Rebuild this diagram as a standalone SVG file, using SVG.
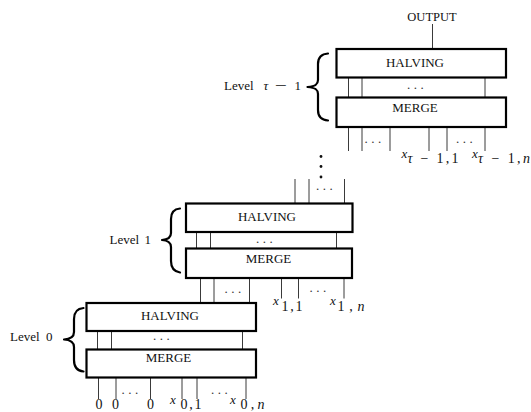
<svg xmlns="http://www.w3.org/2000/svg" width="531" height="412" viewBox="0 0 531 412">
  <defs>
    <style>
      .box { fill: #ffffff; stroke: #000000; stroke-width: 2.2; }
      .wire { stroke: #3a3a3a; stroke-width: 1; fill: none; }
      .brace { fill: none; stroke: #000000; stroke-width: 2.2; stroke-linecap: round; stroke-linejoin: round; }
      .t { font-family: "Liberation Serif", "Times New Roman", serif; font-size: 13px; fill: #111111; }
      .s { font-size: 14px; }
      .c { text-anchor: middle; }
      .i { font-style: italic; }
      .dots { font-family: "Liberation Serif", serif; font-size: 13px; fill: #333333; letter-spacing: 3.5px; }
    </style>
  </defs>
  <rect width="531" height="412" fill="#ffffff"/>

  <!-- connectors -->
  <g id="connectors">
    <!-- output -->
    <line class="wire" x1="432.5" y1="24" x2="432.5" y2="49"/>
    <!-- level tau-1 -->
    <line class="wire" x1="348.5" y1="77.5" x2="348.5" y2="97.5"/>
    <line class="wire" x1="362" y1="77.5" x2="362" y2="97.5"/>
    <line class="wire" x1="485" y1="77.5" x2="485" y2="97.5"/>
    <line class="wire" x1="415" y1="117" x2="415" y2="127"/>
    <line class="wire" x1="348.5" y1="127" x2="348.5" y2="151"/>
    <line class="wire" x1="362" y1="127" x2="362" y2="151"/>
    <line class="wire" x1="390" y1="127" x2="390" y2="151"/>
    <line class="wire" x1="429" y1="127" x2="429" y2="151"/>
    <line class="wire" x1="447" y1="127" x2="447" y2="151"/>
    <line class="wire" x1="485" y1="127" x2="485" y2="151"/>
    <!-- into level 1 -->
    <line class="wire" x1="295" y1="179" x2="295" y2="203.5"/>
    <line class="wire" x1="309" y1="179" x2="309" y2="203.5"/>
    <line class="wire" x1="344.5" y1="179" x2="344.5" y2="203.5"/>
    <!-- level 1 -->
    <line class="wire" x1="196.5" y1="232" x2="196.5" y2="248.5"/>
    <line class="wire" x1="210.5" y1="232" x2="210.5" y2="248.5"/>
    <line class="wire" x1="336.5" y1="232" x2="336.5" y2="248.5"/>
    <line class="wire" x1="267.5" y1="269" x2="267.5" y2="278"/>
    <line class="wire" x1="200.5" y1="278" x2="200.5" y2="303"/>
    <line class="wire" x1="214" y1="278" x2="214" y2="303"/>
    <line class="wire" x1="249.5" y1="278" x2="249.5" y2="303"/>
    <line class="wire" x1="281.5" y1="278" x2="281.5" y2="298.5"/>
    <line class="wire" x1="298.5" y1="278" x2="298.5" y2="298.5"/>
    <line class="wire" x1="344" y1="278" x2="344" y2="298.5"/>
    <!-- level 0 -->
    <line class="wire" x1="97.5" y1="331" x2="97.5" y2="349.5"/>
    <line class="wire" x1="111.5" y1="331" x2="111.5" y2="349.5"/>
    <line class="wire" x1="242.5" y1="331" x2="242.5" y2="349.5"/>
    <line class="wire" x1="168.5" y1="367.5" x2="168.5" y2="377.5"/>
    <line class="wire" x1="98.5" y1="377.5" x2="98.5" y2="399"/>
    <line class="wire" x1="116" y1="377.5" x2="116" y2="399"/>
    <line class="wire" x1="150.5" y1="377.5" x2="150.5" y2="399"/>
    <line class="wire" x1="182" y1="377.5" x2="182" y2="399"/>
    <line class="wire" x1="197" y1="377.5" x2="197" y2="399"/>
    <line class="wire" x1="246" y1="377.5" x2="246" y2="399"/>
  </g>

  <!-- ellipses between wires -->
  <g id="ellipses">
    <text class="dots" x="407" y="88.5">...</text>
    <text class="dots" x="364.5" y="143">...</text>
    <text class="dots" x="456" y="143">...</text>
    <text class="dots" x="316" y="189.5">...</text>
    <text class="dots" x="256" y="242.5">...</text>
    <text class="dots" x="224.5" y="292.5">...</text>
    <text class="dots" x="309.5" y="292">...</text>
    <text class="dots" x="153" y="339.5">...</text>
    <text class="dots" x="121.5" y="393.5">...</text>
    <text class="dots" x="211" y="393.5">...</text>
    <!-- vertical dots between levels -->
    <circle cx="321" cy="156.5" r="1.4" fill="#111"/>
    <circle cx="321" cy="166.5" r="1.4" fill="#111"/>
    <circle cx="321" cy="177" r="1.4" fill="#111"/>
  </g>

  <!-- output label -->
  <g id="output">
    <text class="t c" x="432" y="20.5" style="font-size:12.5px">OUTPUT</text>
  </g>

  <!-- level tau-1 -->
  <g id="halving-top">
    <rect class="box" x="336.5" y="49" width="169.5" height="28.5"/>
    <text class="t c" x="415" y="66.5">HALVING</text>
  </g>
  <g id="merge-top">
    <rect class="box" x="336.5" y="97.5" width="169.5" height="29.5"/>
    <text class="t c" x="415" y="111.5">MERGE</text>
  </g>
  <g id="level-top">
    <path class="brace" d="M328,53.5 C322,54 318,57 318,64 L318,80 C318,84 316,86.5 307.5,87 C316,87.5 318,90 318,94 L318,110 C318,117 322,120 328,120.5"/>
    <text class="t" x="224" y="89.5">Level</text>
    <text class="t i" x="263.5" y="89.5">τ</text>
    <text class="t" x="274.5" y="89.5" textLength="12" lengthAdjust="spacingAndGlyphs">−</text>
    <text class="t" x="294.5" y="89.5">1</text>
  </g>
  <g id="inputs-top">
    <text class="t i" x="401.5" y="157.5">x</text>
    <text class="t s" x="407.5" y="163" textLength="51" lengthAdjust="spacing"><tspan class="i">τ</tspan> − 1,1</text>
    <text class="t i" x="472" y="157.5">x</text>
    <text class="t s" x="478" y="163" textLength="52" lengthAdjust="spacing"><tspan class="i">τ</tspan> − 1,<tspan class="i">n</tspan></text>
  </g>

  <!-- level 1 -->
  <g id="halving-1">
    <rect class="box" x="186" y="203.5" width="166.5" height="28.5"/>
    <text class="t c" x="267" y="221">HALVING</text>
  </g>
  <g id="merge-1">
    <rect class="box" x="186" y="248.5" width="166" height="29.5"/>
    <text class="t c" x="268.5" y="263">MERGE</text>
  </g>
  <g id="level-1">
    <path class="brace" d="M180,208.5 C174,209 171,212 171,219 L171,233 C171,237 169,239.5 162,240 C169,240.5 171,243 171,247 L171,261 C171,268 174,271.5 180,272.5"/>
    <text class="t" x="109.5" y="243.5">Level</text>
    <text class="t" x="144.5" y="243.5">1</text>
  </g>
  <g id="inputs-1">
    <text class="t i" x="273" y="305">x</text>
    <text class="t s" x="281.5" y="310.5" textLength="21" lengthAdjust="spacing">1,1</text>
    <text class="t i" x="330" y="305">x</text>
    <text class="t s" x="337.5" y="310.5" textLength="27" lengthAdjust="spacing">1,<tspan class="i">n</tspan></text>
  </g>

  <!-- level 0 -->
  <g id="halving-0">
    <rect class="box" x="86.5" y="303" width="169.5" height="28"/>
    <text class="t c" x="170" y="320">HALVING</text>
  </g>
  <g id="merge-0">
    <rect class="box" x="86.5" y="349.5" width="169.5" height="28"/>
    <text class="t c" x="168.5" y="362">MERGE</text>
  </g>
  <g id="level-0">
    <path class="brace" d="M83.5,308 C77.5,308.5 74,312 74,319 L74,332 C74,336 72,339 64,339.5 C72,340 74,343 74,347 L74,360 C74,367 77.5,371 83.5,371.5"/>
    <text class="t" x="10" y="340.5">Level</text>
    <text class="t" x="46" y="340.5">0</text>
  </g>
  <g id="inputs-0">
    <text class="t s c" x="99" y="409">0</text>
    <text class="t s c" x="115.5" y="409">0</text>
    <text class="t s c" x="150.5" y="409">0</text>
    <text class="t i" x="170" y="404">x</text>
    <text class="t s" x="180.5" y="409" textLength="21" lengthAdjust="spacing">0,1</text>
    <text class="t i" x="230" y="404">x</text>
    <text class="t s" x="240.5" y="409" textLength="24" lengthAdjust="spacing">0,<tspan class="i">n</tspan></text>
  </g>
</svg>
